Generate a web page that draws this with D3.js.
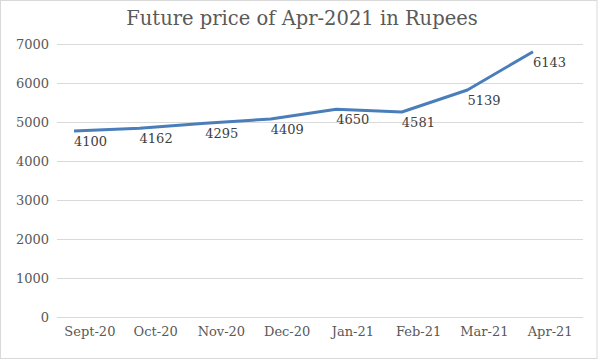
<!DOCTYPE html>
<html>
<head>
<meta charset="utf-8">
<script src="https://cdn.jsdelivr.net/npm/d3@7"></script>
<style>
  html, body { margin: 0; padding: 0; background: #fff; }
  svg { display: block; }
</style>
</head>
<body>
<svg id="chart" width="600" height="360"></svg>
<script>
const categories = ["Sept-20", "Oct-20", "Nov-20", "Dec-20", "Jan-21", "Feb-21", "Mar-21", "Apr-21"];
const plottedValues = [4772, 4841, 4969, 5079, 5328, 5259, 5822, 6803];
const dataLabels = ["4100", "4162", "4295", "4409", "4650", "4581", "5139", "6143"];
const yTicks = [0, 1000, 2000, 3000, 4000, 5000, 6000, 7000];
const title = "Future price of Apr-2021 in Rupees";

const FONT = "'DejaVu Serif', 'Liberation Serif', serif";
const svg = d3.select("#chart");

// chart area border
svg.append("rect")
  .attr("x", 0.5).attr("y", 0.5)
  .attr("width", 596.5).attr("height", 358)
  .attr("fill", "#fff").attr("stroke", "#d9d9d9").attr("stroke-width", 1);

const plot = { left: 57, right: 583, top: 44, bottom: 317.3 };

const y = d3.scaleLinear().domain([0, 7000]).range([plot.bottom, plot.top]);
const xBand = d3.scaleBand().domain(categories).range([plot.left, plot.right]);
const xLine = d3.scalePoint().domain(categories).range([74, 533]);

// gridlines
svg.append("g").selectAll("line").data(yTicks).join("line")
  .attr("x1", plot.left).attr("x2", plot.right)
  .attr("y1", d => Math.round(y(d)) + 0.5).attr("y2", d => Math.round(y(d)) + 0.5)
  .attr("stroke", "#d9d9d9").attr("stroke-width", 1);

// y axis labels
const yAxis = d3.axisLeft(y).tickValues(yTicks).tickSize(0).tickPadding(0).tickFormat(d3.format("d"));
const gy = svg.append("g").attr("transform", `translate(49,0)`).call(yAxis);
gy.select(".domain").remove();
gy.selectAll("text").attr("font-family", FONT).attr("font-size", 13).attr("fill", "#595959");

// x axis labels
const xAxis = d3.axisBottom(xBand).tickSize(0).tickPadding(0);
const gx = svg.append("g").attr("transform", `translate(0,${plot.bottom + 9})`).call(xAxis);
gx.select(".domain").remove();
gx.selectAll("text").attr("font-family", FONT).attr("font-size", 13).attr("fill", "#595959");

// line
const line = d3.line().x((d, i) => xLine(categories[i])).y(d => y(d));
svg.append("path").datum(plottedValues)
  .attr("d", line)
  .attr("fill", "none").attr("stroke", "#4a7ebb").attr("stroke-width", 3)
  .attr("stroke-linejoin", "round");

// data labels
svg.append("g").selectAll("text").data(plottedValues).join("text")
  .attr("x", (d, i) => xLine(categories[i]))
  .attr("y", d => y(d) + 15)
  .attr("font-family", FONT).attr("font-size", 13).attr("fill", "#404040")
  .text((d, i) => dataLabels[i]);

// title
svg.append("text")
  .attr("x", 302).attr("y", 25)
  .attr("text-anchor", "middle")
  .attr("font-family", FONT).attr("font-size", 19.5).attr("fill", "#595959")
  .text(title);
</script>
</body>
</html>
